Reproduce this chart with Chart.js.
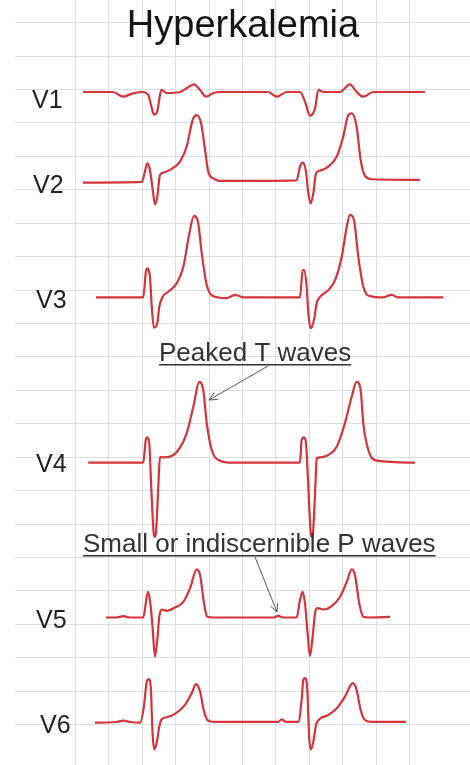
<!DOCTYPE html>
<html>
<head>
<meta charset="utf-8">
<title>Hyperkalemia</title>
<script src="https://cdn.jsdelivr.net/npm/chart.js@4.4.1/dist/chart.umd.min.js"></script>
<style>
  html, body { margin: 0; padding: 0; background: #fff; }
  #wrap { position: relative; width: 470px; height: 765px; }
</style>
</head>
<body>
<div id="wrap"><canvas id="ecgChart"></canvas></div>
<script>
// leads and where each lead's baseline sits on the paper (mV from bottom line)
const leads = ['V1', 'V2', 'V3', 'V4', 'V5', 'V6'];
const leadBaselines = [9.964, 8.633, 6.890, 4.418, 2.102, 0.539];

// time in ms, amplitude in mV relative to the lead baseline
const v1Time = [245, 425, 485, 545, 605, 636, 657, 670, 690, 706, 716, 746, 826, 866, 910, 946, 982, 1023, 1065, 1353, 1405, 1465, 1544, 1574, 1604, 1634, 1654, 1684, 1784, 1843, 1883, 1923, 1983, 2292];
const v1Amp = [0, 0, -0.07, -0.02, 0, -0.045, -0.24, -0.34, -0.29, -0.045, 0.03, -0.015, 0, 0.055, 0.115, 0.03, -0.07, -0.02, 0, 0, -0.07, 0, 0, -0.145, -0.355, -0.245, 0.03, 0, 0, 0.115, 0, -0.07, 0, 0];

const v2Time = [245, 597, 616, 630, 646, 663, 676, 690, 706, 726, 766, 826, 866, 902, 926, 952, 976, 995, 1035, 1065, 1524, 1544, 1560, 1580, 1594, 1608, 1624, 1640, 1664, 1714, 1764, 1803, 1833, 1854, 1883, 1907, 1933, 1973, 2262];
const v2Amp = [-0.025, -0.015, 0.14, 0.265, 0.165, -0.135, -0.35, -0.235, 0.09, 0.125, 0.165, 0.29, 0.515, 0.915, 0.985, 0.865, 0.465, 0.14, 0.025, 0, 0.01, 0.215, 0.275, 0.14, -0.185, -0.335, -0.185, 0.115, 0.155, 0.215, 0.365, 0.665, 0.985, 1.01, 0.81, 0.315, 0.075, 0.025, 0.015];

const v3Time = [323, 606, 622, 633, 646, 657, 670, 690, 702, 722, 756, 806, 846, 882, 910, 935, 956, 986, 1035, 1105, 1155, 1205, 1544, 1560, 1568, 1584, 1594, 1608, 1628, 1644, 1664, 1714, 1754, 1794, 1824, 1843, 1867, 1893, 1923, 1963, 2043, 2093, 2132, 2402];
const v3Amp = [0, 0, 0.385, 0.435, 0.31, -0.14, -0.45, -0.385, -0.14, 0.01, 0.085, 0.21, 0.46, 0.96, 1.22, 1.11, 0.66, 0.185, 0.01, -0.01, 0.04, 0, 0, 0.41, 0.41, 0.16, -0.235, -0.46, -0.335, -0.085, 0.01, 0.11, 0.26, 0.61, 1.06, 1.235, 1.16, 0.61, 0.16, 0.02, 0, 0.04, 0, 0];

const v4Time = [277, 606, 621, 630, 642, 652, 662, 669, 675, 681, 688, 697, 706, 726, 766, 816, 866, 906, 941, 965, 986, 1016, 1065, 1143, 1544, 1554, 1568, 1580, 1592, 1602, 1609, 1615, 1621, 1628, 1637, 1644, 1664, 1714, 1764, 1813, 1854, 1883, 1907, 1923, 1953, 2003, 2232];
const v4Amp = [0, 0, 0.34, 0.38, 0.29, -0.26, -0.8, -1.07, -1.11, -1.07, -0.8, -0.3, 0.085, 0.08, 0.09, 0.19, 0.44, 0.84, 1.21, 1.09, 0.59, 0.19, 0.03, 0, 0, 0.34, 0.38, 0.29, -0.26, -0.8, -1.07, -1.11, -1.07, -0.8, -0.3, 0.065, 0.08, 0.115, 0.24, 0.59, 0.99, 1.21, 1.09, 0.59, 0.19, 0.03, 0];

const v5Time = [383, 443, 487, 527, 606, 627, 636, 651, 663, 676, 690, 702, 716, 746, 796, 846, 886, 926, 946, 970, 989, 1025, 1384, 1414, 1444, 1524, 1544, 1560, 1574, 1588, 1604, 1620, 1634, 1648, 1684, 1734, 1784, 1824, 1854, 1873, 1899, 1923, 1953, 2083];
const v5Amp = [0, 0, 0.02, 0, 0, 0.31, 0.385, 0.16, -0.19, -0.585, -0.335, 0.01, 0.12, 0.10, 0.15, 0.235, 0.435, 0.72, 0.635, 0.21, 0.01, 0, 0, 0.025, 0, 0, 0.26, 0.385, 0.21, -0.19, -0.575, -0.285, 0.065, 0.14, 0.12, 0.17, 0.31, 0.535, 0.72, 0.635, 0.21, 0.01, 0, 0.01];

const v6Time = [317, 443, 487, 527, 587, 610, 627, 639, 651, 657, 663, 672, 686, 702, 716, 746, 796, 856, 896, 922, 946, 970, 995, 1046, 1414, 1435, 1460, 1534, 1554, 1564, 1574, 1588, 1594, 1600, 1610, 1624, 1640, 1660, 1714, 1764, 1813, 1860, 1883, 1907, 1933, 1973, 2178];
const v6Amp = [-0.01, 0, 0.02, 0, -0.01, 0.23, 0.605, 0.64, 0.53, 0.13, -0.22, -0.41, -0.32, -0.07, 0.04, 0.07, 0.12, 0.255, 0.43, 0.565, 0.455, 0.155, 0.02, 0, 0, 0.04, 0, 0, 0.33, 0.63, 0.655, 0.48, 0.08, -0.27, -0.41, -0.295, -0.045, 0.04, 0.105, 0.205, 0.38, 0.58, 0.48, 0.18, 0.03, 0, 0];

const times = [v1Time, v2Time, v3Time, v4Time, v5Time, v6Time];
const amps = [v1Amp, v2Amp, v3Amp, v4Amp, v5Amp, v6Amp];

// paper grid: one box = 200 ms by 0.5 mV
const gridColor = '#dedede';
const traceColor = '#d6333b';
const fontFam = '"Liberation Sans", Arial, Helvetica, sans-serif';

function keepGridTicks(step) {
  return function (scale) {
    scale.ticks = scale.ticks.filter(t => Math.abs(t.value / step - Math.round(t.value / step)) < 1e-6);
  };
}

function drawArrow(ctx, x1, y1, x2, y2) {
  const a = Math.atan2(y2 - y1, x2 - x1);
  const len = 9;
  ctx.beginPath();
  ctx.moveTo(x1, y1);
  ctx.lineTo(x2, y2);
  ctx.moveTo(x2 - len * Math.cos(a - 0.45), y2 - len * Math.sin(a - 0.45));
  ctx.lineTo(x2, y2);
  ctx.lineTo(x2 - len * Math.cos(a + 0.45), y2 - len * Math.sin(a + 0.45));
  ctx.stroke();
}

function underlined(ctx, text, x, y) {
  ctx.fillText(text, x, y);
  const w = ctx.measureText(text).width;
  ctx.fillRect(x, y + 3, w, 1.5);
}

const labelPlugin = {
  id: 'ecgLabels',
  afterDraw(chart) {
    const ctx = chart.ctx;
    ctx.save();
    ctx.textBaseline = 'alphabetic';

    ctx.fillStyle = '#151515';
    ctx.font = '38px ' + fontFam;
    ctx.textAlign = 'center';
    ctx.fillText('Hyperkalemia', 243, 37);

    ctx.textAlign = 'left';
    ctx.fillStyle = '#222';
    ctx.font = '25px ' + fontFam;
    const labelSpots = [[32, 108], [33, 193], [36, 308], [36, 472], [36, 628], [40, 733]];
    leads.forEach((name, i) => ctx.fillText(name, labelSpots[i][0], labelSpots[i][1]));

    ctx.fillStyle = '#333';
    ctx.font = '26px ' + fontFam;
    underlined(ctx, 'Peaked T waves', 159, 361);
    underlined(ctx, 'Small or indiscernible P waves', 83, 552);

    ctx.strokeStyle = '#555';
    ctx.lineWidth = 1;
    drawArrow(ctx, 268, 366, 209, 400);
    drawArrow(ctx, 255, 557, 277, 612);
    ctx.restore();
  }
};

function initEcgChart() {
  const ctx = document.getElementById('ecgChart');
  new Chart(ctx, {
    type: 'line',
    data: {
      datasets: leads.map((name, i) => ({
        label: name,
        data: times[i].map((t, j) => ({ x: t, y: leadBaselines[i] + amps[i][j] })),
        borderColor: traceColor,
        borderWidth: 2.2,
        pointRadius: 0,
        fill: false,
        cubicInterpolationMode: 'monotone'
      }))
    },
    options: {
      responsive: true,
      maintainAspectRatio: false,
      animation: false,
      layout: { padding: { left: 15, right: 0, top: 0, bottom: 0 } },
      plugins: { legend: { display: false }, tooltip: { enabled: false } },
      scales: {
        x: {
          type: 'linear',
          min: -161.6,
          max: 2561.6,
          ticks: { stepSize: 200, display: false },
          grid: { color: gridColor, lineWidth: 1, drawTicks: false },
          border: { display: false },
          afterBuildTicks: keepGridTicks(200)
        },
        y: {
          type: 'linear',
          min: -0.1047,
          max: 11.34,
          ticks: { stepSize: 0.5, display: false },
          grid: { color: gridColor, lineWidth: 1, drawTicks: false },
          border: { display: false },
          afterBuildTicks: keepGridTicks(0.5)
        }
      }
    },
    plugins: [labelPlugin]
  });
}

document.addEventListener('DOMContentLoaded', initEcgChart);
</script>
</body>
</html>
